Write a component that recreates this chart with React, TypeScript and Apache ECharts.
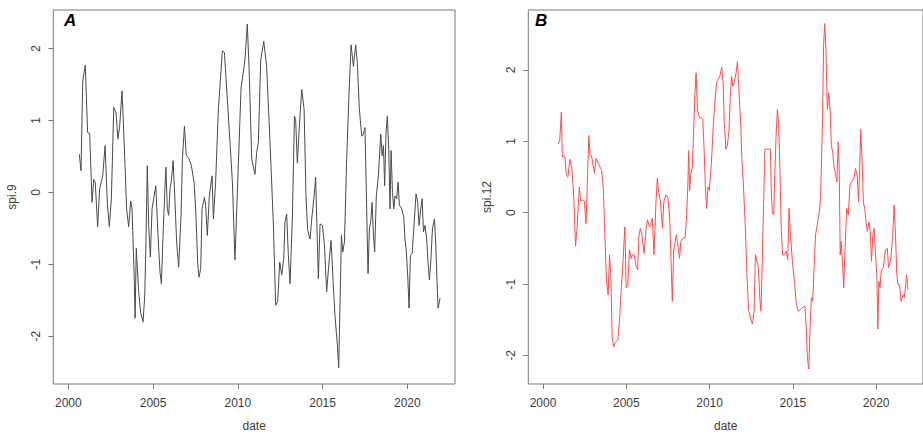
import React, { useEffect, useRef } from "react";
import * as echarts from "echarts";

// Panel A: SPI-9 (decimal years)
const yearsA = [
  2000.65, 2000.75, 2000.85, 2001.0, 2001.14, 2001.26, 2001.4, 2001.5, 2001.59, 2001.73, 2001.85,
  2002.03, 2002.17, 2002.3, 2002.42, 2002.54, 2002.68, 2002.81, 2002.93, 2003.03, 2003.17, 2003.31,
  2003.44, 2003.56, 2003.68, 2003.76, 2003.88, 2003.94, 2004.01, 2004.15, 2004.27, 2004.41, 2004.51,
  2004.58, 2004.66, 2004.74, 2004.84, 2004.94, 2005.06, 2005.16, 2005.29, 2005.41, 2005.49, 2005.61,
  2005.69, 2005.76, 2005.84, 2005.92, 2006.0, 2006.08, 2006.18, 2006.28, 2006.39, 2006.51, 2006.65,
  2006.73, 2006.85, 2006.96, 2007.1, 2007.26, 2007.42, 2007.53, 2007.63, 2007.71, 2007.81, 2007.89,
  2008.03, 2008.1, 2008.2, 2008.32, 2008.48, 2008.56, 2008.69, 2008.85, 2009.09, 2009.21, 2009.54,
  2009.68, 2009.83, 2010.19, 2010.42, 2010.56, 2010.68, 2010.82, 2011.01, 2011.11, 2011.21, 2011.35,
  2011.53, 2011.7, 2011.9, 2012.1, 2012.23, 2012.35, 2012.47, 2012.59, 2012.71, 2012.78, 2012.88,
  2012.98, 2013.08, 2013.22, 2013.34, 2013.41, 2013.51, 2013.63, 2013.77, 2013.91, 2014.02, 2014.12,
  2014.26, 2014.36, 2014.5, 2014.59, 2014.67, 2014.75, 2014.85, 2014.99, 2015.11, 2015.24, 2015.38,
  2015.5, 2015.62, 2015.73, 2015.87, 2015.95, 2016.03, 2016.11, 2016.19, 2016.29, 2016.42, 2016.56,
  2016.68, 2016.82, 2016.95, 2017.05, 2017.17, 2017.31, 2017.41, 2017.5, 2017.6, 2017.68, 2017.76,
  2017.84, 2017.92, 2018.0, 2018.07, 2018.17, 2018.29, 2018.43, 2018.51, 2018.59, 2018.66, 2018.74,
  2018.82, 2018.9, 2018.98, 2019.04, 2019.12, 2019.2, 2019.27, 2019.37, 2019.45, 2019.53, 2019.67,
  2019.79, 2019.86, 2019.94, 2020.02, 2020.1, 2020.18, 2020.28, 2020.38, 2020.51, 2020.61, 2020.69,
  2020.79, 2020.87, 2020.95, 2021.04, 2021.14, 2021.22, 2021.3, 2021.38, 2021.48, 2021.6, 2021.67,
  2021.75, 2021.81, 2021.93,
];
const spi9 = [
  0.53, 0.3, 1.54, 1.77, 0.83, 0.82, -0.14, 0.18, 0.14, -0.48, 0.05,
  0.23, 0.65, -0.14, -0.48, -0.09, 1.18, 1.11, 0.74, 0.92, 1.41, 0.6,
  -0.23, -0.48, -0.12, -0.23, -1.11, -1.75, -0.78, -1.38, -1.68, -1.8, -1.43,
  -0.69, 0.37, -0.46, -0.9, -0.23, -0.05, 0.09, -0.6, -1.11, -1.27, -0.46,
  0.0, 0.35, -0.23, -0.32, 0.05, 0.16, 0.44, -0.05, -0.69, -1.04, -0.32,
  0.46, 0.92, 0.51, 0.48, 0.37, 0.14, -0.32, -0.97, -1.18, -1.06, -0.23,
  -0.07, -0.18, -0.6, -0.05, 0.23, -0.37, 0.14, 1.15, 1.97, 1.94, 0.69,
  0.14, -0.94, 1.45, 1.84, 2.34, 1.61, 0.46, 0.25, 0.55, 0.69, 1.84,
  2.1, 1.75, 0.69, -0.46, -1.57, -1.52, -0.97, -1.15, -0.92, -0.41, -0.3,
  -0.88, -1.27, -0.32, 1.06, 1.01, 0.41, 0.92, 1.43, 1.15, -0.05, -0.53,
  -0.65, -0.37, -0.05, 0.21, -0.51, -1.2, -0.44, -0.46, -0.74, -1.38, -0.97,
  -0.67, -1.24, -1.71, -2.12, -2.44, -1.52, -0.6, -0.83, -0.69, 0.46, 1.38,
  2.05, 1.75, 2.05, 1.8, 1.15, 0.78, 0.81, 0.9, -0.23, -1.13, -0.51,
  -0.41, -0.14, -0.6, -0.83, -0.05, 0.23, 0.81, 0.51, 0.65, 0.09, 0.83,
  1.06, 0.6, -0.23, 0.58, 0.0, -0.23, -0.05, -0.09, 0.14, -0.18, -0.23,
  -0.35, -0.65, -0.83, -1.15, -1.61, -0.88, -0.85, -0.51, -0.02, -0.14, -0.46,
  -0.23, -0.09, -0.55, -0.46, -0.65, -0.97, -1.22, -0.97, -0.51, -0.37, -0.69,
  -1.24, -1.61, -1.47,
];

// Panel B: SPI-12
const yearsB = [
  2000.91, 2001.0, 2001.1, 2001.16, 2001.24, 2001.32, 2001.4, 2001.49, 2001.61, 2001.73, 2001.85,
  2001.95, 2002.04, 2002.18, 2002.26, 2002.38, 2002.48, 2002.58, 2002.67, 2002.75, 2002.83, 2002.91,
  2003.01, 2003.09, 2003.18, 2003.32, 2003.52, 2003.62, 2003.71, 2003.81, 2003.91, 2003.99, 2004.07,
  2004.15, 2004.24, 2004.34, 2004.5, 2004.6, 2004.7, 2004.79, 2004.91, 2004.99, 2005.09, 2005.19,
  2005.29, 2005.36, 2005.48, 2005.58, 2005.68, 2005.76, 2005.84, 2005.93, 2006.07, 2006.19, 2006.27,
  2006.39, 2006.46, 2006.56, 2006.66, 2006.78, 2006.86, 2006.96, 2007.05, 2007.17, 2007.25, 2007.37,
  2007.49, 2007.6, 2007.68, 2007.76, 2007.84, 2008.0, 2008.07, 2008.19, 2008.27, 2008.39, 2008.53,
  2008.62, 2008.7, 2008.74, 2008.8, 2008.88, 2008.96, 2009.04, 2009.12, 2009.19, 2009.27, 2009.39,
  2009.51, 2009.59, 2009.67, 2009.74, 2009.82, 2009.9, 2009.98, 2010.1, 2010.22, 2010.33, 2010.43,
  2010.53, 2010.61, 2010.73, 2010.81, 2010.88, 2010.98, 2011.06, 2011.16, 2011.24, 2011.32, 2011.39,
  2011.47, 2011.59, 2011.67, 2011.75, 2011.87, 2011.94, 2012.02, 2012.14, 2012.24, 2012.34, 2012.46,
  2012.57, 2012.67, 2012.75, 2012.85, 2012.93, 2013.01, 2013.08, 2013.16, 2013.24, 2013.32, 2013.42,
  2013.56, 2013.65, 2013.71, 2013.77, 2013.85, 2013.91, 2013.99, 2014.07, 2014.14, 2014.22, 2014.3,
  2014.38, 2014.5, 2014.6, 2014.69, 2014.77, 2014.85, 2014.97, 2015.09, 2015.21, 2015.32, 2015.44,
  2015.56, 2015.72, 2015.79, 2015.87, 2015.95, 2016.03, 2016.11, 2016.19, 2016.27, 2016.36, 2016.46,
  2016.56, 2016.66, 2016.72, 2016.78, 2016.84, 2016.91, 2016.99, 2017.07, 2017.15, 2017.23, 2017.31,
  2017.39, 2017.46, 2017.54, 2017.64, 2017.72, 2017.78, 2017.84, 2017.9, 2017.97, 2018.05, 2018.13,
  2018.23, 2018.33, 2018.43, 2018.54, 2018.66, 2018.76, 2018.86, 2018.94, 2019.02, 2019.07, 2019.15,
  2019.23, 2019.31, 2019.39, 2019.47, 2019.57, 2019.64, 2019.72, 2019.8, 2019.88, 2019.96, 2020.04,
  2020.1, 2020.16, 2020.23, 2020.31, 2020.43, 2020.55, 2020.67, 2020.74, 2020.86, 2020.98, 2021.08,
  2021.16, 2021.24, 2021.31, 2021.41, 2021.49, 2021.61, 2021.69, 2021.77, 2021.83, 2021.9,
];
const spi12 = [
  0.96, 1.01, 1.41, 0.78, 0.8, 0.78, 0.52, 0.5, 0.75, 0.62, 0.2,
  -0.47, -0.22, 0.36, 0.16, 0.18, 0.16, -0.15, 0.52, 1.08, 0.8, 0.8,
  0.66, 0.55, 0.76, 0.69, 0.59, 0.34, -0.31, -0.96, -1.15, -0.59, -0.87,
  -1.75, -1.88, -1.82, -1.77, -1.47, -1.05, -0.73, -0.2, -1.05, -1.01, -0.52,
  -0.64, -0.59, -0.59, -0.75, -0.8, -0.31, -0.22, -0.31, -0.57, -0.22, -0.1,
  -0.2, -0.17, -0.08, -0.59, 0.15, 0.48, 0.27, 0.15, -0.22, 0.15, 0.25,
  0.22, -0.06, -0.64, -1.24, -0.54, -0.31, -0.4, -0.64, -0.4, -0.36, -0.35,
  -0.03, 0.43, 0.87, 0.31, 0.57, 0.62, 1.13, 1.68, 1.96, 1.45, 1.33,
  1.33, 1.31, 0.89, 0.38, 0.06, 0.36, 0.31, 0.66, 1.22, 1.59, 1.84,
  1.87, 1.91, 2.04, 1.82, 1.26, 0.89, 0.94, 1.13, 1.63, 1.91, 1.77,
  1.82, 1.96, 2.12, 1.77, 1.22, 0.73, 0.43, -0.17, -0.87, -1.36, -1.49,
  -1.56, -1.38, -0.59, -0.68, -0.78, -1.19, -1.38, -0.68, 0.11, 0.89, 0.89,
  0.89, 0.89, 0.25, -0.01, -0.03, 0.52, 1.08, 1.45, 1.26, 0.62, -0.22,
  -0.59, -0.59, -0.54, -0.66, 0.06, -0.31, -0.68, -0.96, -1.28, -1.38, -1.36,
  -1.33, -1.31, -1.56, -2.03, -2.19, -1.63, -1.19, -1.24, -0.78, -0.31, -0.17,
  -0.03, 0.2, 0.75, 1.31, 2.33, 2.65, 2.24, 1.45, 1.68, 1.45, 0.94,
  0.85, 0.66, 0.57, 0.43, 0.99, 0.62, -0.59, -0.4, -0.68, -1.05, -0.5,
  0.06, -0.03, 0.41, 0.43, 0.48, 0.62, 0.52, 0.15, 0.71, 1.17, 0.75,
  0.15, 0.06, -0.13, -0.26, -0.13, -0.26, -0.68, -0.31, -0.22, -0.59, -0.87,
  -1.63, -0.96, -1.05, -0.8, -0.77, -0.52, -0.5, -0.77, -0.68, -0.36, 0.11,
  -0.31, -0.87, -1.01, -1.01, -1.24, -1.15, -1.19, -1.01, -0.87, -1.08,
];

const xTicks = [2000, 2005, 2010, 2015, 2020];
const yTicks = [-2, -1, 0, 1, 2];

const FONT = "'Liberation Sans', Arial, Helvetica, sans-serif";
const BOX = "#7a7a7a";
const TXT = "#3c3c3c";

function xAxisCfg(gridIndex: number) {
  return {
    gridIndex,
    type: "value",
    min: 1999.115,
    max: 2022.81,
    name: "date",
    nameLocation: "middle",
    nameGap: 36,
    nameTextStyle: { color: TXT, fontSize: 12, fontFamily: FONT },
    axisLine: { show: false, onZero: false },
    axisTick: { show: true, length: 5, customValues: xTicks, lineStyle: { color: BOX, width: 1 } },
    axisLabel: {
      customValues: xTicks,
      margin: 13,
      color: TXT,
      fontSize: 12,
      fontFamily: FONT,
      formatter: (v: number) => String(v),
    },
    splitLine: { show: false },
  };
}

function yAxisCfg(gridIndex: number, min: number, max: number, name: string) {
  return {
    gridIndex,
    type: "value",
    min,
    max,
    name,
    nameLocation: "middle",
    nameGap: 35,
    nameTextStyle: { color: TXT, fontSize: 12, fontFamily: FONT },
    axisLine: { show: false, onZero: false },
    axisTick: { show: true, length: 5, customValues: yTicks, lineStyle: { color: BOX, width: 1 } },
    axisLabel: {
      customValues: yTicks,
      rotate: 90,
      margin: 11,
      color: TXT,
      fontSize: 12,
      fontFamily: FONT,
      formatter: (v: number) => String(v),
    },
    splitLine: { show: false },
  };
}

export default function App() {
  const ref = useRef<HTMLDivElement>(null);
  useEffect(() => {
    if (!ref.current) return;
    const chart = echarts.init(ref.current, null, { renderer: "svg" });
    const option = {
      animation: false,
      backgroundColor: "#ffffff",
      textStyle: { fontFamily: FONT },
      grid: [
        { left: 53.3, top: 10, width: 401.7, height: 376.7, show: true, borderColor: BOX, borderWidth: 1, backgroundColor: "transparent" },
        { left: 528.3, top: 10, width: 402, height: 376.7, show: true, borderColor: BOX, borderWidth: 1, backgroundColor: "transparent" },
      ],
      xAxis: [xAxisCfg(0), xAxisCfg(1)],
      yAxis: [yAxisCfg(0, -2.665, 2.535, "spi.9"), yAxisCfg(1, -2.4, 2.84, "spi.12")],
      series: [
        {
          type: "line",
          xAxisIndex: 0,
          yAxisIndex: 0,
          data: yearsA.map((y, i) => [y, spi9[i]]),
          showSymbol: false,
          symbol: "none",
          lineStyle: { color: "#4a4a4a", width: 1 },
        },
        {
          type: "line",
          xAxisIndex: 1,
          yAxisIndex: 1,
          data: yearsB.map((y, i) => [y, spi12[i]]),
          showSymbol: false,
          symbol: "none",
          lineStyle: { color: "#ff4d4d", width: 1 },
        },
      ],
      graphic: [
        { type: "text", left: 64, top: 12, style: { text: "A", fontSize: 17, fontWeight: "bold", fontStyle: "italic", fill: "#000", fontFamily: FONT } },
        { type: "text", left: 535, top: 12, style: { text: "B", fontSize: 17, fontWeight: "bold", fontStyle: "italic", fill: "#000", fontFamily: FONT } },
      ],
    };
    chart.setOption(option as any);
    return () => chart.dispose();
  }, []);
  return (
    <div style={{ position: "fixed", left: 0, top: 0, width: 923, height: 437, overflow: "hidden", background: "#fff" }}>
      <div ref={ref} style={{ width: 923, height: 437 }} />
    </div>
  );
}
